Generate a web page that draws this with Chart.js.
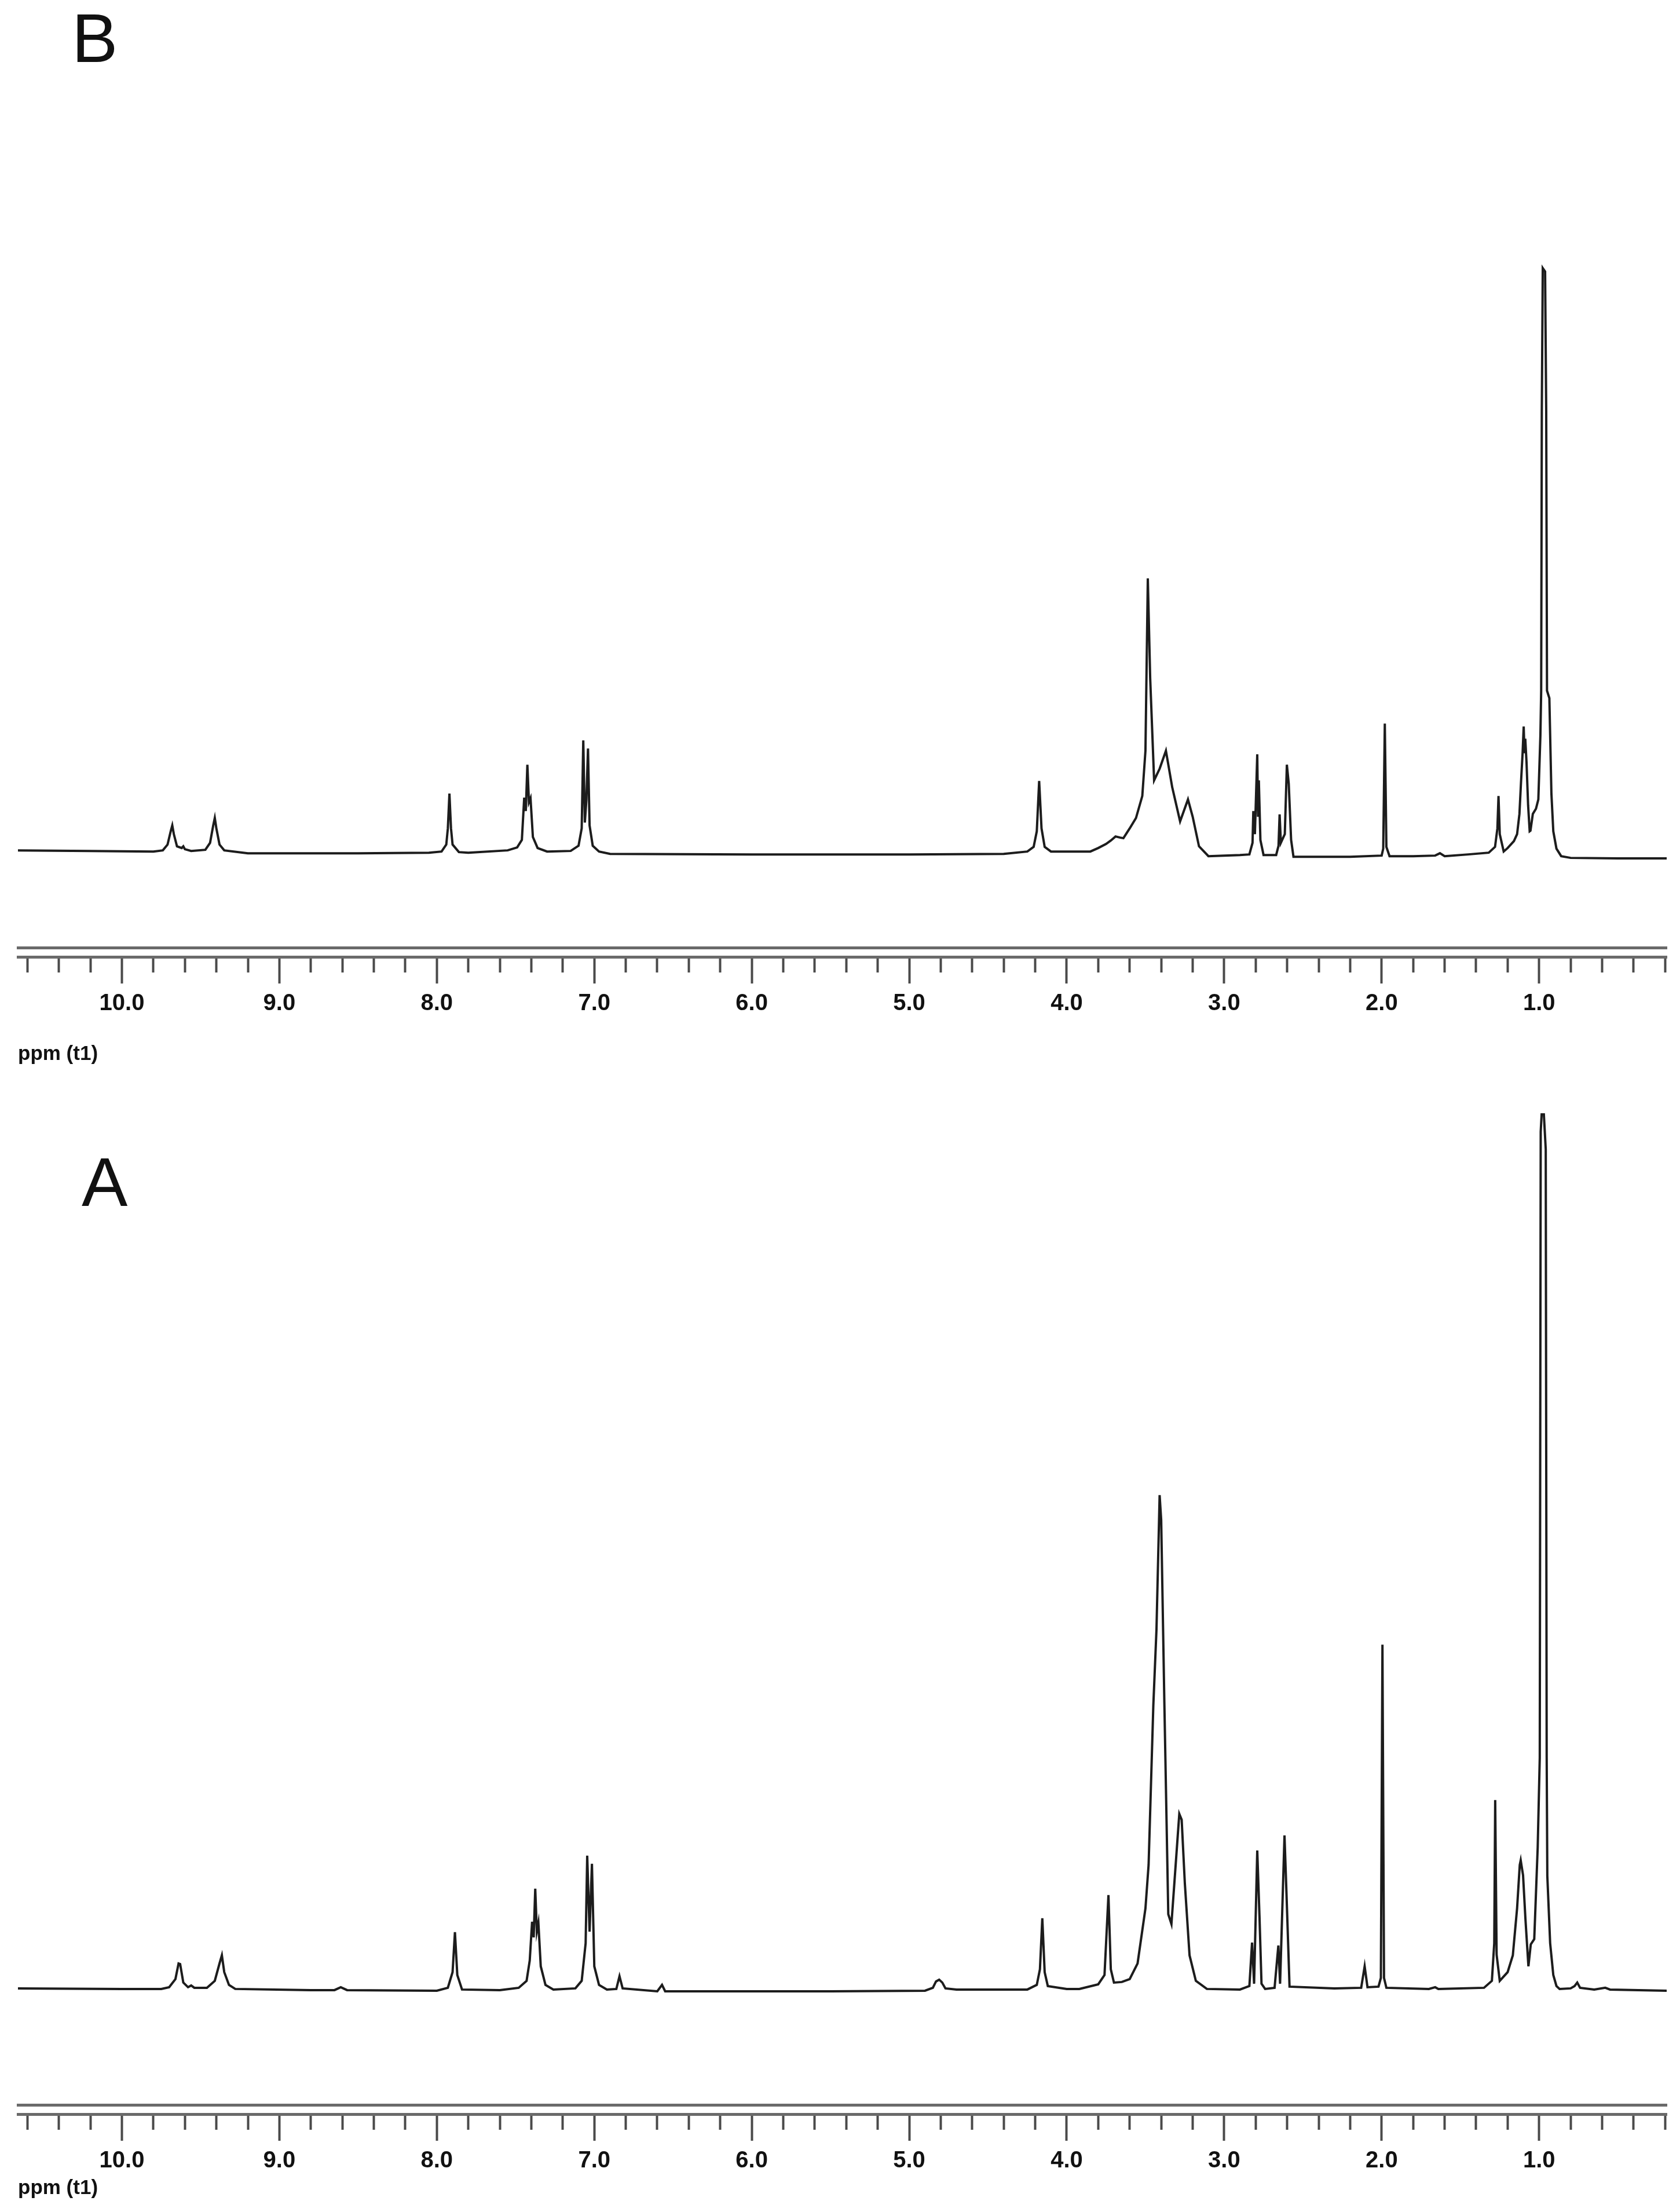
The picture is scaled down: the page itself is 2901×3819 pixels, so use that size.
<!DOCTYPE html>
<html>
<head>
<meta charset="utf-8">
<script src="https://cdn.jsdelivr.net/npm/chart.js@4.4.1/dist/chart.umd.min.js"></script>
<style>
  html, body { margin: 0; padding: 0; background: #fff; }
  body { width: 2901px; height: 3819px; position: relative; overflow: hidden; }
  canvas { position: absolute; left: 0; }
  .panel { position: absolute; font-family: 'Liberation Sans', Arial, sans-serif; font-size: 119px; line-height: 1; color: #111; }
</style>
</head>
<body>
<div class="panel" id="labelB" style="left:124px; top:6px;">B</div>
<div class="panel" id="labelA" style="left:141px; top:1981px;">A</div>
<canvas id="chartB" width="2901" height="1880" style="top:0px"></canvas>
<canvas id="chartA" width="2901" height="1939" style="top:1880px"></canvas>
<script>
// chemical shift (ppm) and intensity
const shiftB = [10.66, 10.2, 9.8, 9.74, 9.71, 9.69, 9.68, 9.67, 9.65, 9.62, 9.61, 9.60, 9.56, 9.47, 9.44, 9.42, 9.41, 9.40, 9.38, 9.35, 9.2,
  8.5, 8.05, 7.97, 7.94, 7.93, 7.92, 7.91, 7.90, 7.86, 7.8, 7.55, 7.49, 7.46, 7.445, 7.435, 7.425, 7.415, 7.405, 7.39, 7.36, 7.3,
  7.15, 7.10, 7.08, 7.07, 7.06, 7.05, 7.04, 7.03, 7.01, 6.97, 6.9, 6.0, 5.0, 4.4, 4.25, 4.21, 4.19, 4.175, 4.16, 4.14, 4.10,
  3.85, 3.80, 3.75, 3.72, 3.69, 3.66, 3.64, 3.60, 3.56, 3.52, 3.50, 3.485, 3.47, 3.445, 3.41, 3.37, 3.33, 3.28, 3.23, 3.20, 3.16, 3.10,
  2.90, 2.84, 2.82, 2.815, 2.805, 2.79, 2.785, 2.78, 2.77, 2.75, 2.67, 2.655, 2.648, 2.64, 2.615, 2.602, 2.59, 2.575, 2.56,
  2.2, 2.0, 1.99, 1.98, 1.97, 1.95, 1.8, 1.66, 1.63, 1.60, 1.45, 1.32, 1.28, 1.265, 1.258, 1.25, 1.225, 1.20, 1.16, 1.14, 1.125,
  1.115, 1.105, 1.098, 1.093, 1.088, 1.08, 1.07, 1.06, 1.055, 1.04, 1.02, 1.005, 0.992, 0.987, 0.983, 0.977, 0.962, 0.955, 0.950,
  0.935, 0.922, 0.91, 0.89, 0.86, 0.8, 0.5, 0.19];
const intensityB = [0.2, 0.1, 0.0, 0.2, 1.2, 3.5, 4.5, 3.0, 0.9, 0.6, 0.9, 0.4, 0.1, 0.3, 1.5, 4.5, 5.8, 4.0, 1.2, 0.2, -0.3,
  -0.3, -0.2, 0.0, 1.2, 4.0, 10.0, 4.0, 1.2, -0.1, -0.2, 0.2, 0.7, 2.0, 9.3, 7.0, 15.0, 8.5, 9.2, 2.5, 0.6, 0.0,
  0.1, 1.0, 4.0, 19.2, 5.0, 9.0, 17.8, 4.5, 1.0, 0.0, -0.4, -0.5, -0.5, -0.4, 0.0, 0.8, 3.5, 12.2, 4.0, 0.8, 0.0,
  0.0, 0.6, 1.3, 1.9, 2.6, 2.4, 2.3, 4.0, 5.8, 9.6, 17.4, 47.2, 30.0, 12.3, 14.3, 17.4, 11.1, 5.2, 9.0, 6.0, 0.9, -0.8,
  -0.6, -0.5, 1.5, 7.0, 3.0, 16.8, 6.0, 12.3, 2.0, -0.6, -0.6, 1.0, 6.4, 1.5, 3.0, 15.0, 11.7, 2.0, -0.9,
  -0.9, -0.7, 0.5, 22.1, 0.8, -0.8, -0.8, -0.7, -0.3, -0.8, -0.5, -0.2, 0.8, 4.0, 9.6, 3.0, 0.0, 0.6, 1.8, 3.0, 6.5,
  12.0, 17.0, 21.6, 17.0, 19.5, 15.4, 8.0, 3.5, 3.6, 6.5, 7.4, 9.0, 20.0, 27.8, 76.0, 100.8, 100.2, 76.0, 27.8,
  26.5, 10.0, 3.5, 0.5, -0.8, -1.1, -1.2, -1.2];

const shiftA = [10.66, 10.0, 9.75, 9.70, 9.66, 9.64, 9.63, 9.61, 9.58, 9.56, 9.54, 9.46, 9.41, 9.38, 9.365, 9.35, 9.32, 9.28,
  8.8, 8.65, 8.61, 8.57, 8.0, 7.93, 7.90, 7.885, 7.87, 7.84, 7.6, 7.48, 7.43, 7.41, 7.395, 7.385, 7.375, 7.365, 7.355, 7.34, 7.31, 7.26,
  7.12, 7.08, 7.055, 7.045, 7.03, 7.015, 7.0, 6.97, 6.92, 6.86, 6.84, 6.82, 6.60, 6.57, 6.55, 5.5, 4.9, 4.85, 4.83, 4.81, 4.79, 4.77, 4.7,
  4.25, 4.19, 4.17, 4.155, 4.14, 4.12, 4.0, 3.92, 3.80, 3.76, 3.735, 3.72, 3.70, 3.65, 3.60, 3.55, 3.50, 3.48, 3.45, 3.43, 3.41, 3.40,
  3.38, 3.355, 3.335, 3.30, 3.285, 3.27, 3.25, 3.22, 3.18, 3.11, 2.9, 2.84, 2.823, 2.81, 2.79, 2.776, 2.763, 2.74, 2.68, 2.656, 2.645,
  2.617, 2.605, 2.585, 2.3, 2.13, 2.108, 2.09, 2.02, 2.005, 1.995, 1.985, 1.97, 1.7, 1.66, 1.64, 1.35, 1.30, 1.285, 1.279, 1.27, 1.25,
  1.20, 1.167, 1.14, 1.123, 1.117, 1.102, 1.087, 1.068, 1.053, 1.031, 1.009, 0.996, 0.99, 0.984, 0.97, 0.958, 0.952, 0.948, 0.93,
  0.91, 0.89, 0.87, 0.80, 0.775, 0.758, 0.74, 0.65, 0.58, 0.55, 0.19];
const intensityA = [0.2, 0.1, 0.1, 0.4, 1.8, 4.5, 4.4, 1.2, 0.4, 0.7, 0.3, 0.3, 1.5, 4.5, 5.9, 3.0, 0.8, 0.1,
  -0.1, -0.1, 0.4, -0.1, -0.2, 0.3, 3.0, 9.9, 2.5, 0.0, -0.1, 0.3, 1.5, 5.0, 11.7, 9.0, 17.4, 10.0, 11.5, 4.0, 0.8, 0.0,
  0.2, 1.5, 8.0, 23.1, 10.0, 21.7, 4.0, 0.8, 0.0, 0.1, 2.3, 0.2, -0.3, 0.8, -0.3, -0.3, -0.2, 0.3, 1.4, 1.7, 1.2, 0.2, 0.0,
  0.0, 0.8, 3.5, 12.3, 3.0, 0.6, 0.1, 0.1, 0.9, 2.5, 16.3, 3.5, 1.2, 1.3, 1.8, 4.5, 14.0, 21.5, 49.0, 62.1, 85.3, 81.0,
  49.6, 13.0, 11.3, 24.6, 30.3, 29.3, 18.4, 5.9, 1.5, 0.1, 0.0, 0.6, 8.1, 1.0, 24.0, 12.8, 1.0, 0.1, 0.3, 7.6, 1.0,
  26.6, 17.1, 0.5, 0.2, 0.3, 4.0, 0.4, 0.5, 2.0, 59.5, 2.0, 0.3, 0.1, 0.4, 0.1, 0.3, 1.5, 8.0, 32.7, 6.0, 1.5,
  3.0, 5.9, 14.0, 21.5, 22.3, 19.7, 12.2, 4.0, 7.8, 8.7, 24.6, 40.0, 148.0, 151.0, 151.0, 145.0, 40.0, 19.6, 8.0,
  2.5, 0.6, 0.1, 0.2, 0.6, 1.2, 0.3, 0.0, 0.3, 0.0, -0.2];

// axis runs from high ppm (left) to low ppm (right); plotted as -ppm
const ppmRange = [0.19, 10.66];

const isMajor = (v) => Math.abs(v - Math.round(v)) < 1e-6;

function makeChart(id, shift, intensity, yMin, yMax, padTop, padBottom, titleGap) {
  const ctx = document.getElementById(id).getContext('2d');
  return new Chart(ctx, {
    type: 'line',
    data: {
      datasets: [{
        data: shift.map((x, i) => ({ x: -x, y: intensity[i] })),
        borderColor: '#1c1c1c',
        borderWidth: 4,
        pointRadius: 0,
        tension: 0,
        fill: false
      }]
    },
    options: {
      responsive: false,
      animation: false,
      layout: { padding: { top: padTop, bottom: padBottom, left: 31, right: 23 } },
      plugins: { legend: { display: false }, tooltip: { enabled: false } },
      scales: {
        x: {
          type: 'linear',
          position: 'bottom',
          weight: 1,
          min: -ppmRange[1],
          max: -ppmRange[0],
          border: { display: true, color: '#6a6a6a', width: 5 },
          grid: {
            drawOnChartArea: false,
            drawTicks: true,
            tickLength: 46,
            tickWidth: 4,
            tickColor: '#4a4a4a',
            tickBorderDash: (c) => (c.tick && isMajor(c.tick.value)) ? [] : [24, 200]
          },
          ticks: {
            stepSize: 0.2,
            includeBounds: false,
            autoSkip: false,
            maxRotation: 0,
            padding: 11,
            color: '#111',
            font: { family: "'Liberation Sans', Arial, sans-serif", size: 40, weight: 'bold' },
            callback: (v) => isMajor(v) ? Math.abs(v).toFixed(1) : ''
          },
          title: {
            display: true,
            text: 'ppm (t1)',
            align: 'start',
            color: '#111',
            padding: { top: titleGap, bottom: 0 },
            font: { family: "'Liberation Sans', Arial, sans-serif", size: 35, weight: 'bold' }
          }
        },
        frame: {
          type: 'linear',
          position: 'bottom',
          weight: 0,
          border: { display: true, color: '#6a6a6a', width: 5 },
          grid: { display: false, drawTicks: true, tickLength: 16 },
          ticks: { display: false }
        },
        y: { display: false, min: yMin, max: yMax }
      }
    }
  });
}

makeChart('chartB', shiftB, intensityB, -16.6, 107.1, 400, 39, 31);
makeChart('chartA', shiftA, intensityA, -19.9, 152.4, 30, 20, -9);
</script>
</body>
</html>
